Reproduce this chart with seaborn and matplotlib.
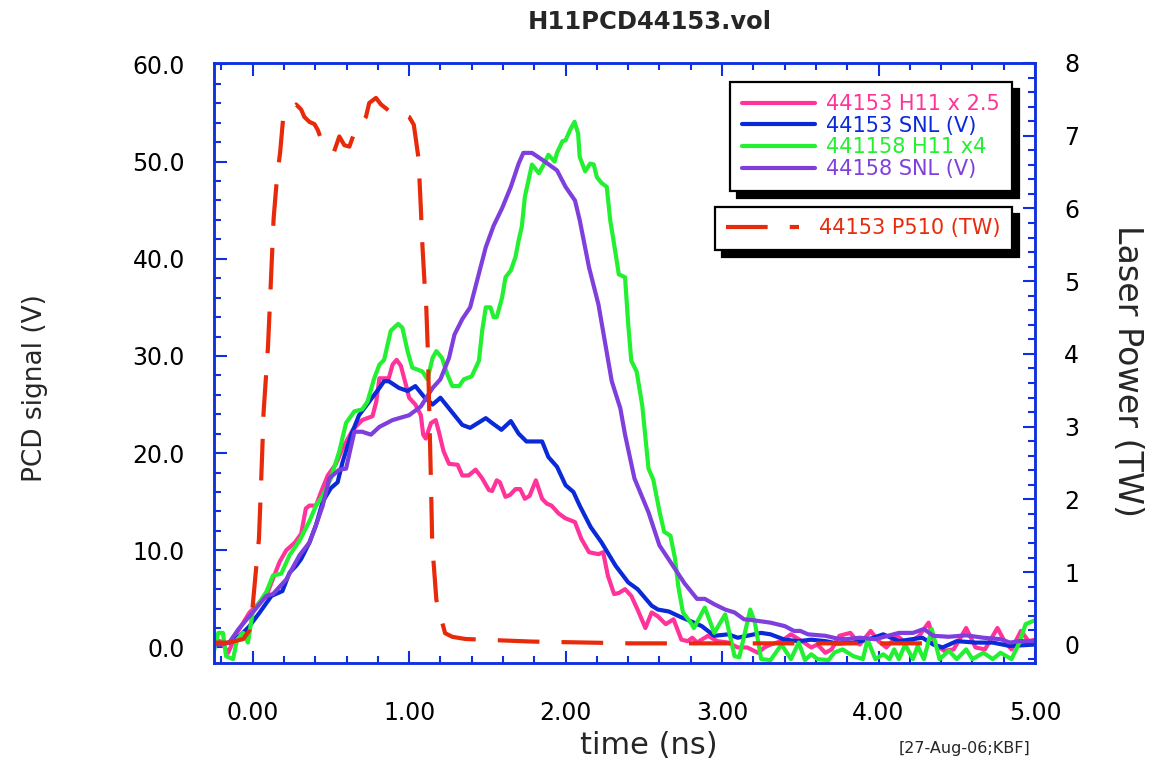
import numpy as np
import pandas as pd
import matplotlib
matplotlib.use("Agg")
import matplotlib.pyplot as plt
import seaborn as sns
from matplotlib.ticker import MultipleLocator, FormatStrFormatter

# ---------------- data ----------------
pink_t = [-0.25, -0.2, -0.157, -0.10, -0.02, 0.087, 0.172, 0.215, 0.27, 0.31, 0.34, 0.363, 0.405, 0.437,
          0.48, 0.533, 0.575, 0.64, 0.70, 0.766, 0.79, 0.81, 0.87, 0.894, 0.92, 0.947, 0.98, 1.0, 1.04,
          1.075, 1.09, 1.106, 1.14, 1.17, 1.19, 1.22, 1.255, 1.31, 1.34, 1.38, 1.425, 1.467, 1.51, 1.53,
          1.56, 1.58, 1.616, 1.645, 1.68, 1.71, 1.74, 1.77, 1.81, 1.85, 1.88, 1.91, 1.955, 1.998, 2.06,
          2.10, 2.15, 2.21, 2.24, 2.27, 2.31, 2.34, 2.38, 2.42, 2.46, 2.51, 2.55, 2.59, 2.64, 2.69, 2.74,
          2.78, 2.81, 2.84, 2.91, 2.97, 3.04, 3.10, 3.16, 3.23, 3.27, 3.31, 3.38, 3.44, 3.51, 3.57, 3.61,
          3.66, 3.70, 3.75, 3.82, 3.88, 3.95, 4.0, 4.05, 4.12, 4.17, 4.21, 4.26, 4.32, 4.36, 4.42, 4.48,
          4.56, 4.62, 4.68, 4.76, 4.81, 4.85, 4.91, 4.96, 5.0]
pink_v = [0.8, 0.6, -0.55, 1.5, 3.6, 5.3, 8.8, 10.0, 10.8, 11.7, 14.3, 14.6, 14.6, 16.0,
          17.7, 18.9, 20.5, 22.4, 23.4, 23.8, 25.3, 27.7, 27.7, 29.1, 29.6, 29.0, 27.0, 25.7, 25.0,
          23.9, 21.9, 21.5, 23.1, 23.4, 22.2, 20.2, 18.9, 18.8, 17.7, 17.7, 18.3, 17.4, 16.2, 16.1,
          17.2, 17.0, 15.5, 15.7, 16.3, 16.3, 15.3, 15.6, 17.2, 15.3, 14.8, 14.6, 13.8, 13.3, 12.9,
          11.2, 9.8, 9.6, 9.8, 7.4, 5.5, 5.6, 6.0, 5.3, 3.9, 2.0, 3.6, 3.2, 2.4, 2.9, 0.8,
          0.65, 1.0, 0.5, 1.2, 0.65, 0.5, 0.0, 0.0, -0.55, 0.0, 0.3, 0.65, 1.35, 0.65, 0.0, 0.3,
          -0.55, -0.2, 1.2, 1.5, 0.3, 1.7, 0.65, 0.0, 1.2, 0.5, 0.65, 1.2, 2.55, 0.3, -0.35, -0.2,
          2.0, 0.0, -0.2, 2.0, 0.5, -0.2, 1.7, 0.65, 0.8]

blue_t = [-0.25, -0.15, -0.08, -0.02, 0.045, 0.12, 0.19, 0.236, 0.278, 0.31, 0.363, 0.405, 0.448, 0.50,
          0.543, 0.575, 0.63, 0.68, 0.745, 0.81, 0.84, 0.87, 0.936, 0.99, 1.04, 1.095, 1.15, 1.20, 1.255,
          1.34, 1.39, 1.49, 1.53, 1.59, 1.65, 1.70, 1.75, 1.85, 1.89, 1.945, 2.0, 2.05, 2.09, 2.16, 2.23,
          2.32, 2.40, 2.46, 2.55, 2.59, 2.66, 2.74, 2.80, 2.87, 2.95, 3.04, 3.10, 3.16, 3.25, 3.31, 3.40,
          3.49, 3.57, 3.66, 3.74, 3.84, 3.93, 4.03, 4.13, 4.28, 4.35, 4.41, 4.50, 4.62, 4.73, 4.84, 5.0]
blue_v = [0.3, 0.5, 1.2, 2.2, 3.6, 5.3, 5.8, 7.7, 8.4, 9.1, 10.8, 12.6, 15.0, 16.4,
          17.0, 19.1, 21.9, 23.9, 25.3, 26.7, 27.4, 27.4, 26.7, 26.4, 26.9, 25.8, 25.0, 25.7, 24.6,
          22.9, 22.6, 23.6, 23.1, 22.4, 23.3, 22.0, 21.2, 21.2, 19.6, 18.6, 16.7, 16.0, 14.6, 12.4, 10.8,
          8.4, 6.7, 6.0, 4.3, 3.9, 3.7, 3.1, 2.7, 2.2, 1.2, 1.35, 1.0, 1.2, 1.5, 1.35, 0.8,
          0.65, 0.8, 0.65, 0.4, 0.5, 0.8, 1.35, 0.65, 1.0, 0.3, 0.0, 0.65, 0.5, 0.5, 0.15, 0.3]

green_t = [-0.25, -0.22, -0.19, -0.17, -0.125, -0.10, -0.06, -0.03, 0.0, 0.087, 0.13, 0.183, 0.236, 0.30,
           0.363, 0.405, 0.448, 0.50, 0.533, 0.554, 0.597, 0.65, 0.70, 0.734, 0.777, 0.81, 0.84, 0.883,
           0.93, 0.957, 0.99, 1.02, 1.053, 1.085, 1.117, 1.15, 1.174, 1.21, 1.244, 1.276, 1.32, 1.35, 1.40,
           1.446, 1.467, 1.49, 1.52, 1.54, 1.56, 1.594, 1.616, 1.65, 1.68, 1.70, 1.72, 1.74, 1.785, 1.83,
           1.86, 1.89, 1.93, 1.945, 1.98, 2.0, 2.03, 2.057, 2.08, 2.09, 2.125, 2.157, 2.18, 2.2, 2.23,
           2.263, 2.285, 2.32, 2.34, 2.38, 2.40, 2.42, 2.454, 2.49, 2.53, 2.56, 2.60, 2.63, 2.67, 2.70,
           2.72, 2.75, 2.80, 2.82, 2.86, 2.89, 2.95, 3.02, 3.08, 3.11, 3.18, 3.21, 3.25, 3.31, 3.38, 3.44,
           3.49, 3.53, 3.57, 3.61, 3.68, 3.72, 3.77, 3.84, 3.90, 3.93, 3.98, 4.03, 4.07, 4.10, 4.13, 4.17,
           4.22, 4.25, 4.29, 4.34, 4.39, 4.45, 4.50, 4.56, 4.60, 4.67, 4.73, 4.78, 4.85, 4.90, 4.94, 5.0]
green_v = [-0.55, 1.5, 1.5, -0.9, -1.2, 0.8, 1.5, 0.5, 3.6, 5.7, 7.4, 7.6, 9.5, 11.0,
           13.0, 14.6, 15.6, 17.4, 19.1, 20.2, 23.1, 24.3, 24.5, 25.3, 27.7, 29.1, 29.6, 32.6,
           33.3, 32.9, 30.5, 28.8, 28.6, 28.4, 27.6, 29.8, 30.5, 29.8, 28.1, 26.9, 26.9, 27.6, 27.9,
           29.5, 32.6, 35.0, 35.0, 34.0, 34.0, 36.0, 38.1, 38.8, 40.2, 41.9, 43.3, 46.4, 49.7, 48.8,
           49.7, 50.7, 50.0, 50.9, 52.1, 52.2, 53.3, 54.1, 52.9, 50.5, 49.0, 49.8, 49.7, 48.4, 47.8,
           47.4, 44.0, 40.5, 38.4, 38.1, 33.3, 29.5, 28.4, 24.9, 18.4, 17.3, 14.0, 11.9, 11.5, 9.1,
           6.3, 3.6, 2.55, 2.0, 3.2, 4.1, 1.5, 3.4, -0.9, -1.0, 3.9, 2.55, -1.2, -1.3, 0.3, -1.2,
           0.5, -1.3, -0.7, -1.2, -1.3, -0.5, -0.2, -0.9, -1.2, 0.8, -1.2, -0.7, -1.2, -0.2, -1.2, 0.3,
           -1.2, 0.15, -1.2, 1.9, -1.2, -0.35, -1.2, -0.2, -1.2, -0.55, -1.2, -0.55, -1.2, 0.5, 2.4, 2.8]

purple_t = [-0.25, -0.2, -0.15, -0.09, 0.0, 0.087, 0.13, 0.215, 0.30, 0.363, 0.405, 0.448, 0.49, 0.554,
            0.597, 0.65, 0.70, 0.756, 0.81, 0.894, 1.0, 1.075, 1.15, 1.20, 1.255, 1.29, 1.34, 1.39, 1.435,
            1.49, 1.54, 1.594, 1.65, 1.70, 1.73, 1.785, 1.85, 1.945, 2.0, 2.06, 2.09, 2.15, 2.21, 2.295,
            2.35, 2.38, 2.44, 2.53, 2.60, 2.67, 2.76, 2.84, 2.89, 2.95, 3.02, 3.08, 3.14, 3.20, 3.31, 3.40,
            3.46, 3.50, 3.55, 3.66, 3.74, 3.79, 3.88, 3.98, 4.13, 4.22, 4.29, 4.35, 4.45, 4.56, 4.67, 4.78,
            4.84, 4.90, 5.0]
purple_v = [0.3, 0.3, 0.5, 1.9, 3.6, 5.3, 5.5, 7.0, 9.5, 10.8, 12.6, 14.6, 17.4, 18.3,
            18.4, 22.2, 22.2, 21.9, 22.7, 23.4, 23.9, 24.8, 26.7, 27.6, 29.8, 32.2, 33.8, 35.0, 37.8,
            41.2, 43.4, 45.2, 47.4, 49.8, 50.9, 50.9, 50.2, 49.1, 47.4, 46.0, 44.0, 39.1, 35.3, 27.4,
            24.6, 21.9, 17.4, 13.9, 10.5, 8.8, 6.6, 5.0, 5.0, 4.45, 3.9, 3.6, 2.9, 2.8, 2.55, 2.2,
            1.7, 1.7, 1.35, 1.2, 0.9, 0.85, 1.0, 0.85, 1.5, 1.5, 1.9, 1.2, 1.1, 1.25, 1.0, 0.85,
            0.5, 0.65, 0.65]

laser_t = [-0.25, -0.15, -0.06, -0.02, 0.0, 0.02, 0.04, 0.05, 0.062, 0.07, 0.098, 0.11, 0.12, 0.134,
           0.155, 0.176, 0.197, 0.22, 0.278, 0.31, 0.33, 0.363, 0.395, 0.416, 0.44, 0.48, 0.52, 0.554,
           0.586, 0.618, 0.645, 0.69, 0.724, 0.745, 0.788, 0.82, 0.85, 0.883, 0.915, 0.96, 1.0, 1.03,
           1.06, 1.075, 1.085, 1.10, 1.11, 1.12, 1.13, 1.14, 1.148, 1.16, 1.174, 1.19, 1.23, 1.276,
           1.36, 1.78, 2.42, 3.0, 3.6, 4.35]
laser_p = [0.03, 0.03, 0.08, 0.2, 0.53, 1.0, 1.45, 2.0, 2.7, 3.2, 4.1, 4.67, 5.17, 5.86,
           6.41, 6.78, 7.29, 7.36, 7.43, 7.36, 7.26, 7.19, 7.16, 7.08, 6.94, 6.85, 6.78, 6.99,
           6.87, 6.85, 7.01, 7.15, 7.26, 7.45, 7.52, 7.43, 7.38, 7.32, 7.32, 7.30, 7.26, 7.15,
           6.69, 6.0, 5.49, 4.92, 4.62, 4.02, 3.1, 2.2, 1.36, 1.03, 0.62, 0.48, 0.16, 0.11,
           0.08, 0.045, 0.02, 0.02, 0.02, 0.02]

labels = ["44153 H11 x 2.5", "44153 SNL (V)", "441158 H11 x4", "44158 SNL (V)"]
laser_label = "44153 P510 (TW)"
colors = ["#ff3399", "#0a2ad8", "#22f030", "#7f3fdc"]
laser_color = "#e82a0a"
axis_blue = "#1030e0"

x_ticks = [0.0, 1.0, 2.0, 3.0, 4.0, 5.0]

# ---------------- figure ----------------
sns.set_style("ticks")
plt.rcParams['font.family'] = ['DejaVu Sans']

W, H = 1154, 770
fig = plt.figure(figsize=(W / 100, H / 100), dpi=100)
ax = fig.add_axes([214 / W, 1 - 663 / H, 821 / W, 600 / H])
ax2 = ax.twinx()

series = [(pink_t, pink_v), (blue_t, blue_v), (green_t, green_v), (purple_t, purple_v)]
for (t, v), lab, c in zip(series, labels, colors):
    df = pd.DataFrame({"t": t, "v": v})
    sns.lineplot(data=df, x="t", y="v", ax=ax, color=c, lw=3.0, label=lab,
                 estimator=None, sort=False, legend=False)

dfl = pd.DataFrame({"t": laser_t, "p": laser_p})
sns.lineplot(data=dfl, x="t", y="p", ax=ax2, color=laser_color, lw=3.0, label=laser_label,
             estimator=None, sort=False, legend=False, linestyle=(0, (10, 5.3)))

ax.set_xlim(-0.247, 5.0)
ax.set_ylim(-1.6, 60.15)
ax2.set_ylim(-0.25, 8.0)

ax.set_xlabel("")
ax.set_ylabel("")
ax2.set_ylabel("")

ax.set_xticks(x_ticks)
ax.xaxis.set_minor_locator(MultipleLocator(0.2))
ax.yaxis.set_major_locator(MultipleLocator(10))
ax.yaxis.set_minor_locator(MultipleLocator(2))
ax2.yaxis.set_major_locator(MultipleLocator(1))
ax2.yaxis.set_minor_locator(MultipleLocator(0.2))
ax.xaxis.set_major_formatter(FormatStrFormatter('%.2f'))
ax.yaxis.set_major_formatter(FormatStrFormatter('%.1f'))
ax2.yaxis.set_major_formatter(FormatStrFormatter('%d'))

for a in (ax, ax2):
    for s in a.spines.values():
        s.set_color(axis_blue)
        s.set_linewidth(1.8)
    a.tick_params(which='both', direction='in', color=axis_blue, width=1.5, labelcolor='black')
    a.tick_params(which='major', length=9)
    a.tick_params(which='minor', length=5)

ax.tick_params(axis='x', which='both', top=True, bottom=True, labelsize=17, pad=27)
ax.tick_params(axis='y', which='both', left=True, right=False, labelsize=17, pad=21)
ax2.tick_params(axis='y', which='both', left=False, right=True, labelsize=17, pad=21)

# axis titles
fig.text(650 / W, 1 - 22 / H, "H11PCD44153.vol", ha='center', va='center', fontsize=17.5, fontweight='bold')
fig.text(649 / W, 1 - 745 / H, "time (ns)", ha='center', va='center', fontsize=22)
fig.text(35 / W, 1 - 388 / H, "PCD signal (V)", ha='center', va='center', fontsize=19, rotation=90)
fig.text(1128 / W, 1 - 371 / H, "Laser Power (TW)", ha='center', va='center', fontsize=24, rotation=270)
fig.text(1030 / W, 1 - 748 / H, "[27-Aug-06;KBF]", ha='right', va='center', fontsize=11.5)

# legends
shadow = {'ox': 5, 'oy': -5, 'color': 'black', 'alpha': 1.0}
h1 = ax.get_lines()[:4]
leg1 = ax2.legend(handles=h1, labels=labels, loc='upper right',
                  bbox_to_anchor=(1012 / W, 1 - 82 / H), bbox_transform=fig.transFigure,
                  frameon=True, fancybox=False, shadow=shadow, edgecolor='black',
                  facecolor='white', framealpha=1, fontsize=15, labelcolor='linecolor',
                  handlelength=3.5, handletextpad=0.55, borderpad=0.58, labelspacing=0.08,
                  borderaxespad=0)
leg1.get_frame().set_linewidth(1.6)
ax2.add_artist(leg1)

h2 = ax2.get_lines()[:1]
leg2 = ax2.legend(handles=h2, labels=[laser_label], loc='upper right',
                  bbox_to_anchor=(1012 / W, 1 - 207 / H), bbox_transform=fig.transFigure,
                  frameon=True, fancybox=False, shadow=shadow, edgecolor='black',
                  facecolor='white', framealpha=1, fontsize=15, labelcolor='linecolor',
                  handlelength=3.5, handletextpad=0.95, borderpad=0.55,
                  borderaxespad=0)
leg2.get_frame().set_linewidth(1.6)

fig.savefig("out.png", dpi=100)
